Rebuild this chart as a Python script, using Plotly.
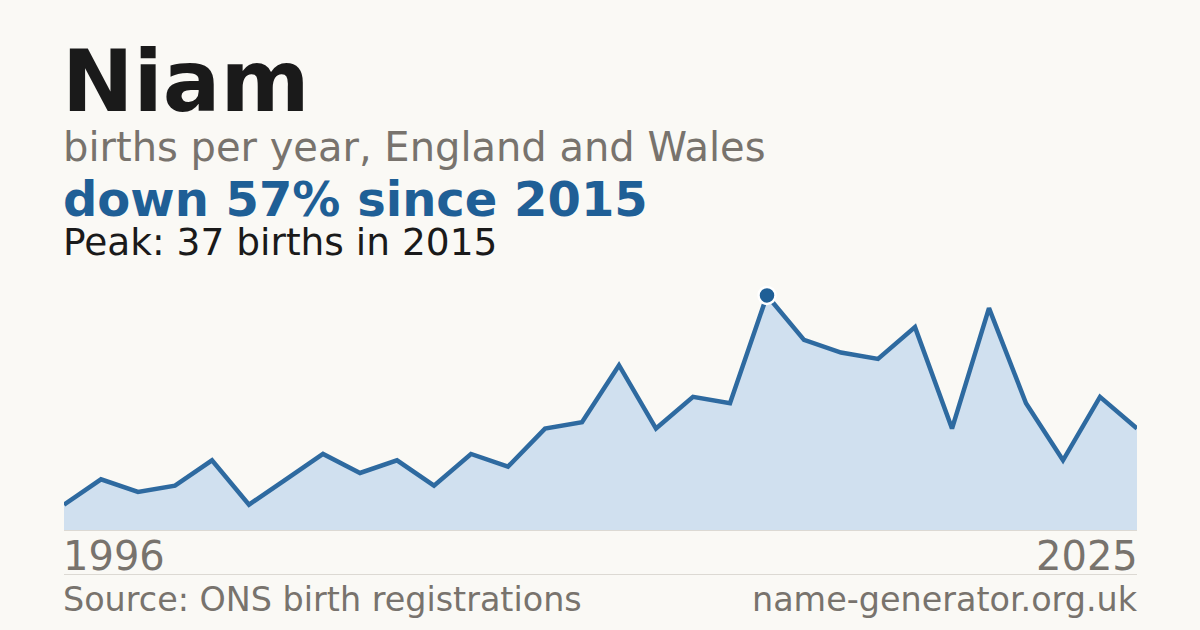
import plotly.graph_objects as go

years = list(range(1996, 2026))
births = [4, 8, 6, 7, 11, 4, 8, 12, 9, 11,
          7, 12, 10, 16, 17, 26, 16, 21, 20, 37,
          30, 28, 27, 32, 16, 35, 20, 11, 21, 16]
peak_year = 2015
peak_value = 37

title_text = "Niam"
subtitle_text = "births per year, England and Wales"
change_text = "down 57% since 2015"
peak_text = "Peak: 37 births in 2015"
source_text = "Source: ONS birth registrations"
site_text = "name-generator.org.uk"

W, H = 1200, 630
L, R, T, B = 64, 1137, 272, 530
BG = "#faf9f5"
FONT = "DejaVu Sans"


def px(x):
    return (x - L) / (R - L)


def py(y):
    return (B - y) / (B - T)


fig = go.Figure()
fig.add_trace(go.Scatter(
    x=years, y=births, mode="lines",
    line=dict(color="#2e6aa0", width=4.5),
    fill="tozeroy", fillcolor="#d0e0ef",
    hoverinfo="skip", showlegend=False,
))
fig.add_trace(go.Scatter(
    x=[peak_year], y=[peak_value], mode="markers",
    marker=dict(color="#1f5f96", size=17, line=dict(color="white", width=2.5)),
    cliponaxis=False, hoverinfo="skip", showlegend=False,
))

ann = []


def add(text, x, y, size, color, bold=False, xanchor="left"):
    ann.append(dict(
        text=f"<b>{text}</b>" if bold else text,
        x=px(x), y=py(y), xref="paper", yref="paper",
        xanchor=xanchor, yanchor="middle", showarrow=False,
        font=dict(family=FONT, size=size, color=color),
    ))


add(title_text, 60, 81, 85.5, "#1a1a1a", bold=True)
add(subtitle_text, 61, 147, 40, "#78736d")
add(change_text, 61, 199, 48, "#1f5f96", bold=True)
add(peak_text, 61, 242, 37.5, "#1a1a1a")
add(str(years[0]), 61, 556, 40, "#78736d")
add(str(years[-1]), 1140, 556, 40, "#78736d", xanchor="right")
add(source_text, 61, 599, 33.4, "#78736d")
add(site_text, 1140, 599, 33.4, "#78736d", xanchor="right")

shapes = [
    dict(type="line", xref="paper", yref="paper", x0=0, x1=1, y0=py(530.5), y1=py(530.5),
         line=dict(color="#dcd9d3", width=1), layer="below"),
    dict(type="line", xref="paper", yref="paper", x0=0, x1=1, y0=py(574.5), y1=py(574.5),
         line=dict(color="#dcd9d3", width=1)),
]

fig.update_layout(
    width=W, height=H, autosize=False,
    margin=dict(l=L, r=W - R, t=T, b=H - B, pad=0),
    paper_bgcolor=BG, plot_bgcolor=BG,
    xaxis=dict(range=[years[0], years[-1]], visible=False, fixedrange=True),
    yaxis=dict(range=[0, 40.7], visible=False, fixedrange=True),
    annotations=ann, shapes=shapes,
    font=dict(family=FONT),
)
fig.write_html(
    "out.html",
    config={"displayModeBar": False},
    post_script="document.body.style.margin='0';document.body.style.background='#faf9f5';",
)
